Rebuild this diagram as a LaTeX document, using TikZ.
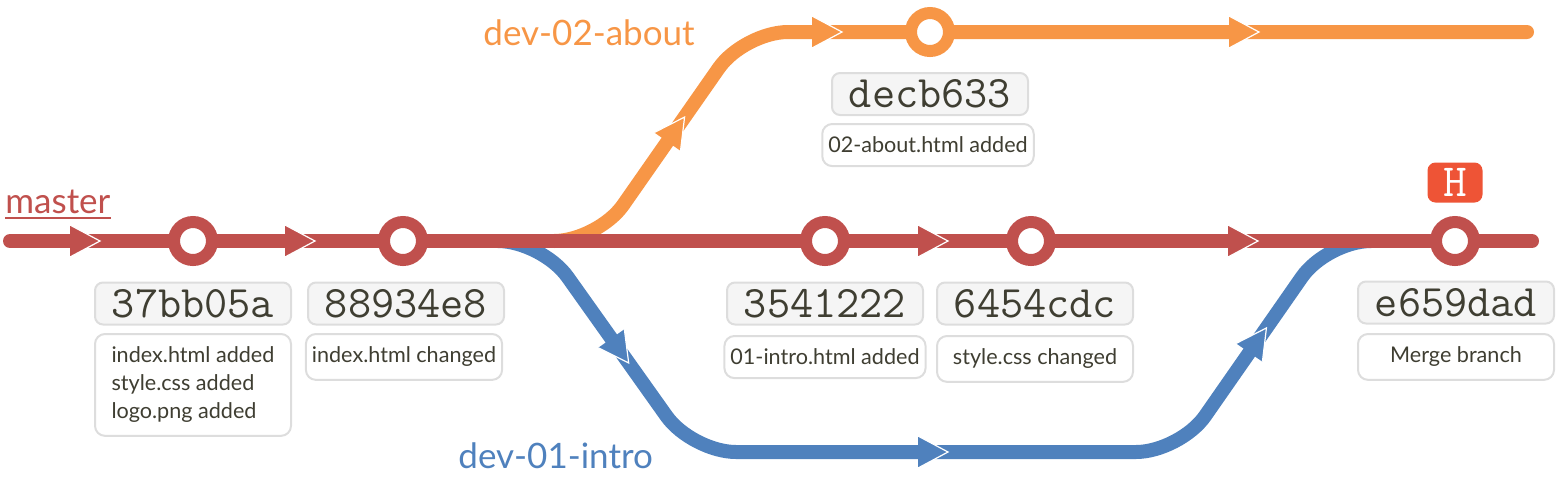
\documentclass[tikz,border=0pt]{standalone}
\usepackage{fontspec}
\setmainfont{Lato}
\usetikzlibrary{calc}
\definecolor{brred}{HTML}{C0504D}
\definecolor{brorange}{HTML}{F79646}
\definecolor{brblue}{HTML}{4F81BD}
\definecolor{txt}{HTML}{3F3E32}
\definecolor{boxline}{HTML}{DDDDDD}
\definecolor{hashfill}{HTML}{F5F5F5}
\definecolor{badge}{HTML}{EE5436}
\tikzset{
  branch/.style={line width=7pt, line cap=round, line join=round},
  commit/.style={circle, draw, fill=white, line width=6pt, minimum size=19pt, inner sep=0pt},
  hashbox/.style={rounded corners=4pt, draw=boxline, line width=1pt, fill=hashfill,
    minimum width=98pt, minimum height=21pt, inner sep=0pt, text=txt,
    font=\ttfamily\fontsize{22.5}{24}\selectfont},
  descbox/.style={rounded corners=5pt, draw=boxline, line width=1pt, fill=white,
    minimum width=98pt, inner xsep=3pt, inner ysep=6.5pt, text=txt, anchor=north,
    font=\fontsize{10.8}{14}\selectfont},
  brlabel/.style={anchor=base west, inner sep=0pt, font=\fontsize{17.5}{20}\selectfont},
  arrowhd/.pic={
    \fill (0,0) -- (-30,16) -- (-30,-16) -- cycle;
    \draw[white, line width=0.6pt, line join=miter] (-30,16) -- (0,0) -- (-30,-16);
  }
}
\begin{document}
\begin{tikzpicture}[x=0.5pt,y=-0.5pt]
\useasboundingbox (0,0) rectangle (1560,479);

% coordinates
\coordinate (mstart) at (10,241);
\coordinate (mend) at (1532,241);
\coordinate (ofork) at (554,241);
\coordinate (oc1) at (598,241);
\coordinate (oc2) at (744,32);
\coordinate (oend) at (1527,32);
\coordinate (bfork) at (498,241);
\coordinate (bc1) at (542,241);
\coordinate (bc2) at (692,452);
\coordinate (bc3) at (1180,452);
\coordinate (bc4) at (1327,241);
\coordinate (bmerge) at (1371,241);

% branches
\draw[branch, brorange, rounded corners=22pt] (ofork) -- (oc1) -- (oc2) -- (oend);
\draw[branch, brblue, rounded corners=22pt] (bfork) -- (bc1) -- (bc2) -- (bc3) -- (bc4) -- (bmerge);
\draw[branch, brred] (mstart) -- (mend);

% arrowheads
\pic[fill=brred] at (100,241) {arrowhd};
\pic[fill=brred] at (315,241) {arrowhd};
\pic[fill=brred] at (948,241) {arrowhd};
\pic[fill=brred] at (1258,241) {arrowhd};
\pic[fill=brorange] at (842,32) {arrowhd};
\pic[fill=brorange] at (1259,32) {arrowhd};
\pic[fill=brblue] at (948,452) {arrowhd};
\path (oc1) -- (oc2) pic[pos=0.593, sloped, allow upside down, fill=brorange] {arrowhd};
\path (bc1) -- (bc2) pic[pos=0.578, sloped, allow upside down, fill=brblue] {arrowhd};
\path (bc3) -- (bc4) pic[pos=0.588, sloped, allow upside down, fill=brblue] {arrowhd};

% commits
\node[commit, draw=brred] (m1) at (193,241) {};
\node[commit, draw=brred] (m2) at (403,241) {};
\node[commit, draw=brred] (m3) at (825,241) {};
\node[commit, draw=brred] (m4) at (1031,241) {};
\node[commit, draw=brred] (m5) at (1455,241) {};
\node[commit, draw=brorange] (o1) at (930,32) {};

% hashes
\node[hashbox] (h1) at (193,303.5) {37bb05a};
\node[hashbox] (h2) at (406,303.5) {88934e8};
\node[hashbox] (h3) at (825,303.5) {3541222};
\node[hashbox] (h4) at (1035,303.5) {6454cdc};
\node[hashbox] (h5) at (1456,302.5) {e659dad};
\node[hashbox] (h6) at (930,94) {decb633};

% descriptions
\node[descbox, align=left] (d1) at (193,333) {index.html added\\style.css added\\logo.png added};
\node[descbox] (d2) at (404,333) {index.html changed};
\node[descbox] (d3) at (825,335) {01-intro.html added};
\node[descbox] (d4) at (1035,335) {style.css changed};
\node[descbox] (d5) at (1456,333) {Merge branch};
\node[descbox] (d6) at (928,123) {02-about.html added};

% HEAD badge
\node[fill=badge, rounded corners=4pt, minimum width=27.5pt, minimum height=20pt, inner sep=0pt,
  text=white, font=\ttfamily\fontsize{23}{24}\selectfont] (head) at (1455,182.5) {H};

% branch labels
\node[brlabel, text=brred] (lmaster) at (5,213) {master};
\draw[brred, line width=1pt] ($(lmaster.base west)+(0,5)$) -- ($(lmaster.base east)+(0,5)$);
\node[brlabel, text=brorange] (lab2) at (483,45) {dev-02-about};
\node[brlabel, text=brblue] (lab1) at (458,468) {dev-01-intro};
\end{tikzpicture}
\end{document}
